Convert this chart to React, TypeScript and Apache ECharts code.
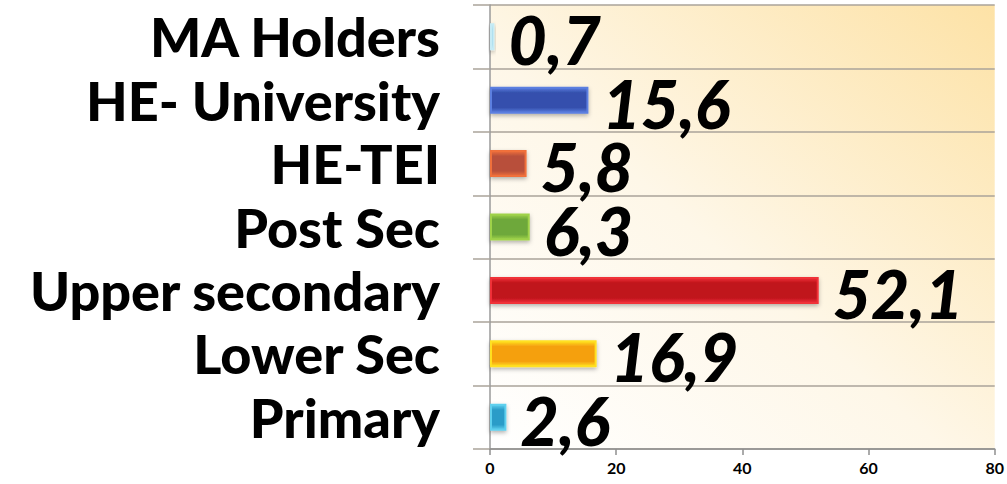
import React, { useEffect, useRef } from "react";
import * as echarts from "echarts";

const categories = ["MA Holders", "HE- University", "HE-TEI", "Post Sec", "Upper secondary", "Lower Sec", "Primary"];
const values = [0.7, 15.6, 5.8, 6.3, 52.1, 16.9, 2.6];
const barColors = [
  ["#c6ebf5", "#92d2e6"],
  ["#5b7fe0", "#3550ad"],
  ["#f0703a", "#b8503a"],
  ["#9fd24a", "#6ea83a"],
  ["#f03038", "#c0141c"],
  ["#ffe020", "#f5a010"],
  ["#5fd0ee", "#2a9cc8"],
];
const xTicks = [0, 20, 40, 60, 80];

export default function App() {
  const ref = useRef<HTMLDivElement>(null);
  useEffect(() => {
    if (!ref.current) return;
    const chart = echarts.init(ref.current, undefined, { renderer: "svg" });
    chart.setOption({
      animation: false,
      backgroundColor: "#ffffff",
      grid: {
        left: 490,
        right: 11,
        top: 5,
        bottom: 35,
        show: true,
        borderWidth: 0,
        backgroundColor: new echarts.graphic.LinearGradient(0, 1, 1, 0, [
          { offset: 0, color: "#ffffff" },
          { offset: 0.45, color: "#fef7e8" },
          { offset: 1, color: "#fde2a6" },
        ]),
      },
      xAxis: {
        type: "value",
        min: xTicks[0],
        max: xTicks[xTicks.length - 1],
        interval: 20,
        axisLine: { show: true, lineStyle: { color: "#8f8f8f", width: 1.5 } },
        axisTick: { show: true, length: 6, lineStyle: { color: "#8f8f8f", width: 1.5 } },
        splitLine: { show: false },
        axisLabel: {
          color: "#000",
          fontSize: 16,
          fontWeight: "bold",
          fontFamily: "Lato",
          margin: 10,
        },
      },
      yAxis: {
        type: "category",
        data: categories,
        inverse: true,
        axisLine: { show: true, lineStyle: { color: "#9a9a9a", width: 1.5 } },
        axisTick: { show: true, length: 17, lineStyle: { color: "#aaa39a", width: 1.5 } },
        splitLine: { show: true, lineStyle: { color: "#aaa39a", width: 1.5 } },
        axisLabel: {
          interval: 0,
          color: "#000",
          fontSize: 54,
          fontWeight: 900,
          fontFamily: "Lato",
          margin: 50,
          hideOverlap: false,
        },
      },
      series: [
        {
          type: "bar",
          barWidth: 27,
          data: values.map((v, i) => ({
            value: v,
            itemStyle: {
              color: new echarts.graphic.LinearGradient(0, 0, 0, 1, [
                { offset: 0, color: barColors[i][0] },
                { offset: 0.2, color: barColors[i][1] },
                { offset: 0.8, color: barColors[i][1] },
                { offset: 1, color: barColors[i][0] },
              ]),
              borderColor: barColors[i][0],
              borderWidth: 2,
              shadowColor: "rgba(0,0,0,0.3)",
              shadowBlur: 4,
              shadowOffsetY: 2,
            },
          })),
          label: {
            show: true,
            position: "right",
            distance: 14,
            offset: [0, 3],
            color: "#000",
            fontSize: 66,
            fontWeight: 900,
            fontStyle: "italic",
            fontFamily: "Lato",
            formatter: (p: any) => String(p.value).replace(".", ","),
          },
        },
      ],
    });
    return () => chart.dispose();
  }, []);
  return <div ref={ref} style={{ width: 1007, height: 484, position: "absolute", left: 0, top: 0 }} />;
}
